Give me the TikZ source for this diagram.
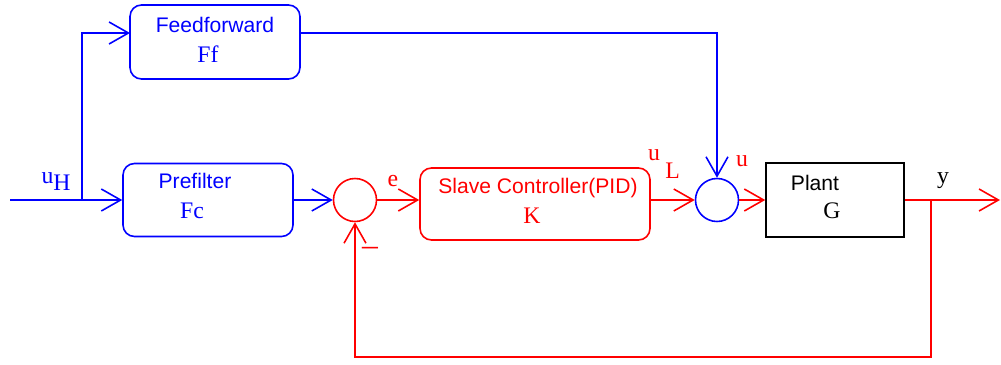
\documentclass[tikz,border=0pt]{standalone}
\usepackage{fontspec}
\setmainfont{Liberation Serif}
\newfontfamily\arialfont{Liberation Sans}
\usetikzlibrary{arrows.meta,positioning,calc}
\definecolor{ffblue}{HTML}{0000FF}
\definecolor{loopred}{HTML}{FF0000}
\definecolor{plantink}{HTML}{000000}

\begin{document}
\begin{tikzpicture}[x=0.02cm,y=-0.02cm,
    blk/.style={draw,rounded corners=6.5pt,line width=0.9pt,inner sep=0pt},
    sumc/.style={draw,circle,minimum size=0.86cm,inner sep=0pt,line width=0.9pt},
    bline/.style={draw=ffblue,line width=0.9pt},
    rline/.style={draw=loopred,line width=0.9pt},
    tip/.style={-{Straight Barb[length=11pt,width=12.5pt,line width=0.9pt]}},
    sanslbl/.style={font=\arialfont\fontsize{12}{14}\selectfont,inner sep=0pt},
    seriflbl/.style={font=\fontsize{13.5}{15}\selectfont,inner sep=0pt}]
  \useasboundingbox (0,0) rectangle (1001,365);
  % blocks
  \node[blk,draw=ffblue,minimum width=3.4cm,minimum height=1.48cm] (ff) at (215,42) {};
  \node[blk,draw=ffblue,minimum width=3.4cm,minimum height=1.46cm] (pre) at (208,200) {};
  \node[blk,draw=loopred,minimum width=4.6cm,minimum height=1.44cm] (pid) at (535,204) {};
  \node[draw=plantink,line width=0.9pt,minimum width=2.76cm,minimum height=1.48cm,inner sep=0pt] (plant) at (835,200) {};
  \node[sumc,draw=loopred] (s1) at (355,200) {};
  \node[sumc,draw=ffblue] (s2) at (717,200) {};
  % block texts
  \node[sanslbl,text=ffblue] (fftxt) at (215,25) {Feedforward};
  \node[seriflbl,text=ffblue] (ffsym) at (208,54) {Ff};
  \node[sanslbl,text=ffblue] (pretxt) at (195,181) {Prefilter};
  \node[seriflbl,text=ffblue] (presym) at (192,211) {Fc};
  \node[sanslbl,text=loopred] (pidtxt) at (538,188) {Slave Controller(PID)};
  \node[seriflbl,text=loopred] (pidsym) at (532,216) {K};
  \node[sanslbl,text=plantink] (planttxt) at (815,183) {Plant};
  \node[seriflbl,text=plantink] (plantsym) at (832,211) {G};
  % signal labels
  \node[seriflbl,text=ffblue] (uH) at (56,182) {u\raisebox{-4pt}{H}};
  \node[seriflbl,text=loopred] (e) at (393,181) {e};
  \node[seriflbl,text=loopred] (uL) at (664,164) {u\hspace{3pt}\raisebox{-10pt}{L}};
  \node[seriflbl,text=loopred] (u) at (742,161) {u};
  \node[seriflbl,text=plantink] (y) at (943,181) {y};
  \node[seriflbl,text=loopred,font=\fontsize{18}{20}\selectfont] (minus) at (370,251) {–};
  % branch points
  \coordinate (in) at (10,200);
  \coordinate (br) at (82,200);
  \coordinate (ffin) at (130,33);
  \coordinate (ffout) at (ff.east |- ffin);
  \coordinate (tap) at (931,200);
  \coordinate (fbc) at (931,357);
  \coordinate (out) at (1000,200);
  % connectors
  \draw[bline,tip] (in) -- (pre.west);
  \draw[bline,tip] (br) |- (ffin);
  \draw[bline,tip] (pre.east) -- (s1.west);
  \draw[bline,tip] (ffout) -| (s2.north);
  \draw[rline,tip] (s1.east) -- (s1 -| pid.west);
  \draw[rline,tip] (s2 -| pid.east) -- (s2.west);
  \draw[rline,tip] (s2.east) -- (plant.west);
  \draw[rline,tip] (plant.east) -- (out);
  \draw[rline,tip] (tap) -- (fbc) -| (s1.south);
\end{tikzpicture}
\end{document}
